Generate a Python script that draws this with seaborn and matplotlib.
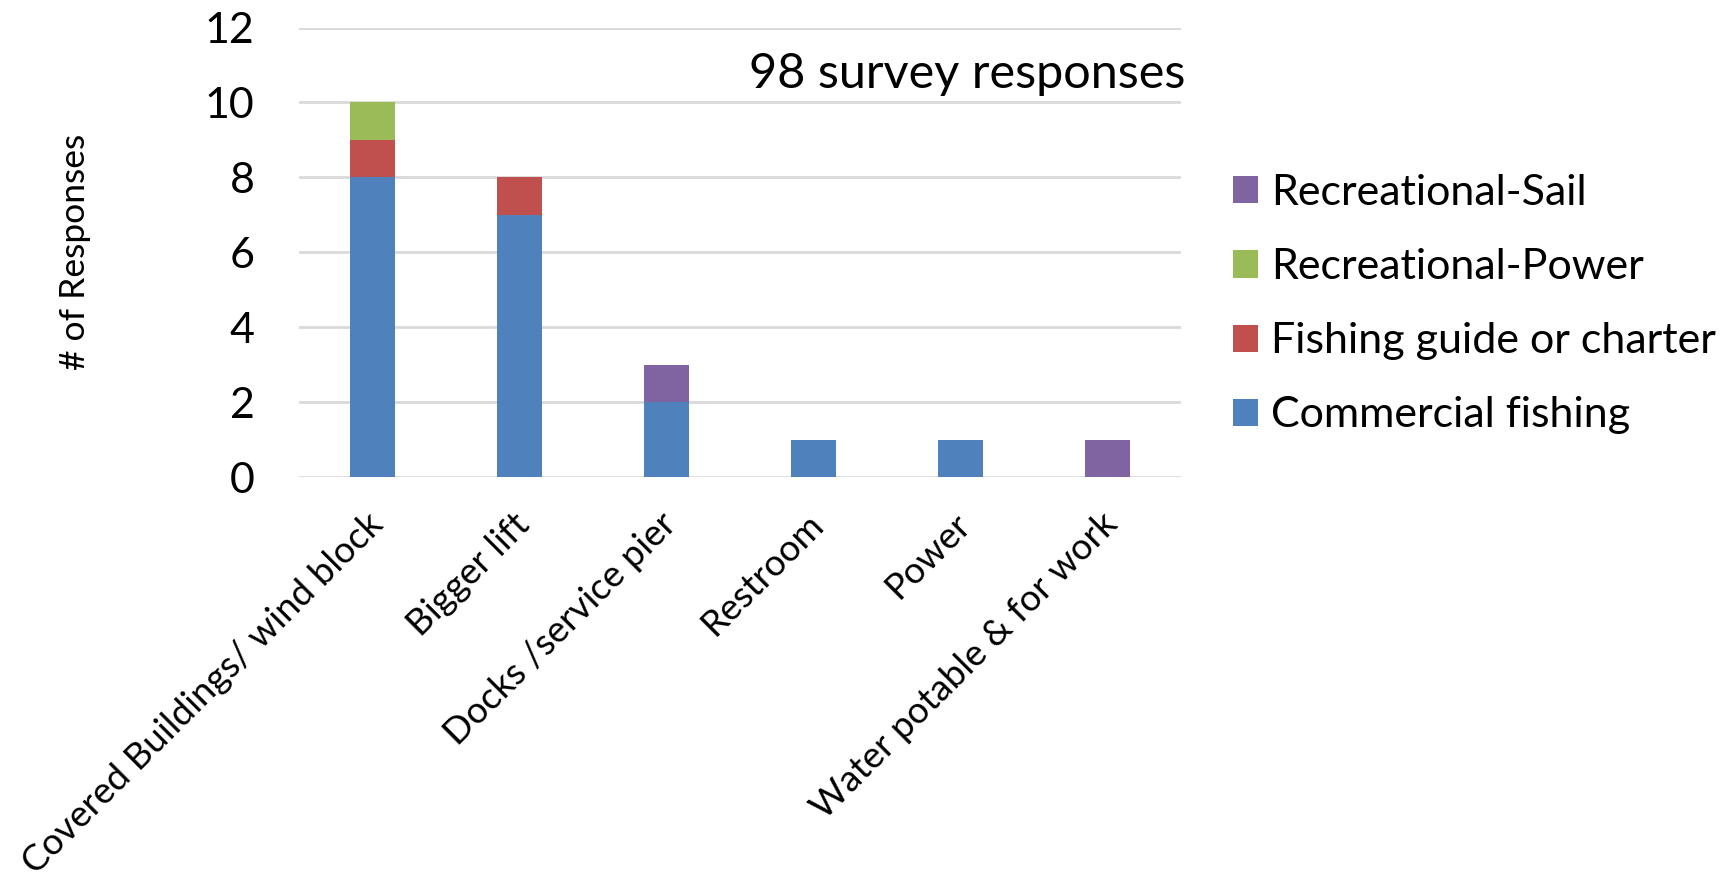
import matplotlib
matplotlib.use("Agg")
import matplotlib.pyplot as plt
from matplotlib.patches import Patch
from matplotlib.transforms import ScaledTranslation, blended_transform_factory
import numpy as np
import pandas as pd
import seaborn as sns

# Survey data: requested improvements by respondent group
categories = ["Covered Buildings/ wind block", "Bigger lift", "Docks /service pier",
              "Restroom", "Power", "Water potable & for work"]
commercial_fishing = [8, 7, 2, 1, 1, 0]
fishing_guide = [1, 1, 0, 0, 0, 0]
recreational_power = [1, 0, 0, 0, 0, 0]
recreational_sail = [0, 0, 1, 0, 0, 1]

series_names = ["Commercial fishing", "Fishing guide or charter",
                "Recreational-Power", "Recreational-Sail"]
series_values = [commercial_fishing, fishing_guide, recreational_power, recreational_sail]
series_colors = ["#4F81BD", "#C0504D", "#9BBB59", "#8064A2"]

y_ticks = [0, 2, 4, 6, 8, 10, 12]
note_text = "98 survey responses"
y_label = "# of Responses"

sns.set_theme(style="white")
plt.rcParams["font.family"] = ["Lato", "DejaVu Sans"]
plt.rcParams["text.color"] = "black"
plt.rcParams["axes.labelcolor"] = "black"
plt.rcParams["xtick.color"] = "black"
plt.rcParams["ytick.color"] = "black"

fig = plt.figure(figsize=(17.34, 8.84), dpi=100)
ax = fig.add_axes([0.1724, 0.4604, 0.5086, 0.5084])

# Stack by drawing cumulative totals, tallest first
cum = np.cumsum(np.array(series_values), axis=0)
for i in range(len(series_names) - 1, -1, -1):
    df = pd.DataFrame({"category": categories, "value": cum[i]})
    sns.barplot(data=df, x="category", y="value", order=categories,
                color=series_colors[i], saturation=1, width=0.31,
                linewidth=0, ax=ax, zorder=3)

ax.set_ylim(0, 12)
ax.set_xlim(-0.5, len(categories) - 0.5)
ax.set_yticks(y_ticks)
ax.set_yticklabels([str(v) for v in y_ticks])
ax.yaxis.grid(True, color="#D9D9D9", linewidth=2.0, zorder=0)
ax.set_axisbelow(True)
for s in ax.spines.values():
    s.set_visible(False)
ax.tick_params(axis="both", length=0)
ax.tick_params(axis="y", labelsize=31, pad=32)
ax.tick_params(axis="x", labelsize=26.5, pad=0)

ax.set_xlabel("")
ax.set_ylabel(y_label, fontsize=25.5)
ax.yaxis.set_label_coords(-0.236, 0.5)

ax.set_xticks(range(len(categories)))
ax.set_xticklabels(categories, rotation=45, ha="right", va="center",
                   rotation_mode="anchor")
offset = ScaledTranslation(5 / 100, -42 / 100, fig.dpi_scale_trans)
for lbl in ax.get_xticklabels():
    lbl.set_transform(lbl.get_transform() + offset)

trans = blended_transform_factory(ax.transAxes, ax.transData)
ax.text(1.005, 10.76, note_text, transform=trans, ha="right", va="center",
        fontsize=35, color="black")

handles = [Patch(facecolor=series_colors[i], edgecolor="none", label=series_names[i])
           for i in range(len(series_names) - 1, -1, -1)]
fig.legend(handles=handles, loc="upper left", bbox_to_anchor=(1233 / 1734, 1 - 174 / 884),
           frameon=False, fontsize=31, handlelength=0.59, handleheight=0.59,
           handletextpad=0.3, labelspacing=0.84, borderpad=0, borderaxespad=0)

fig.savefig("out.png", dpi=100)
